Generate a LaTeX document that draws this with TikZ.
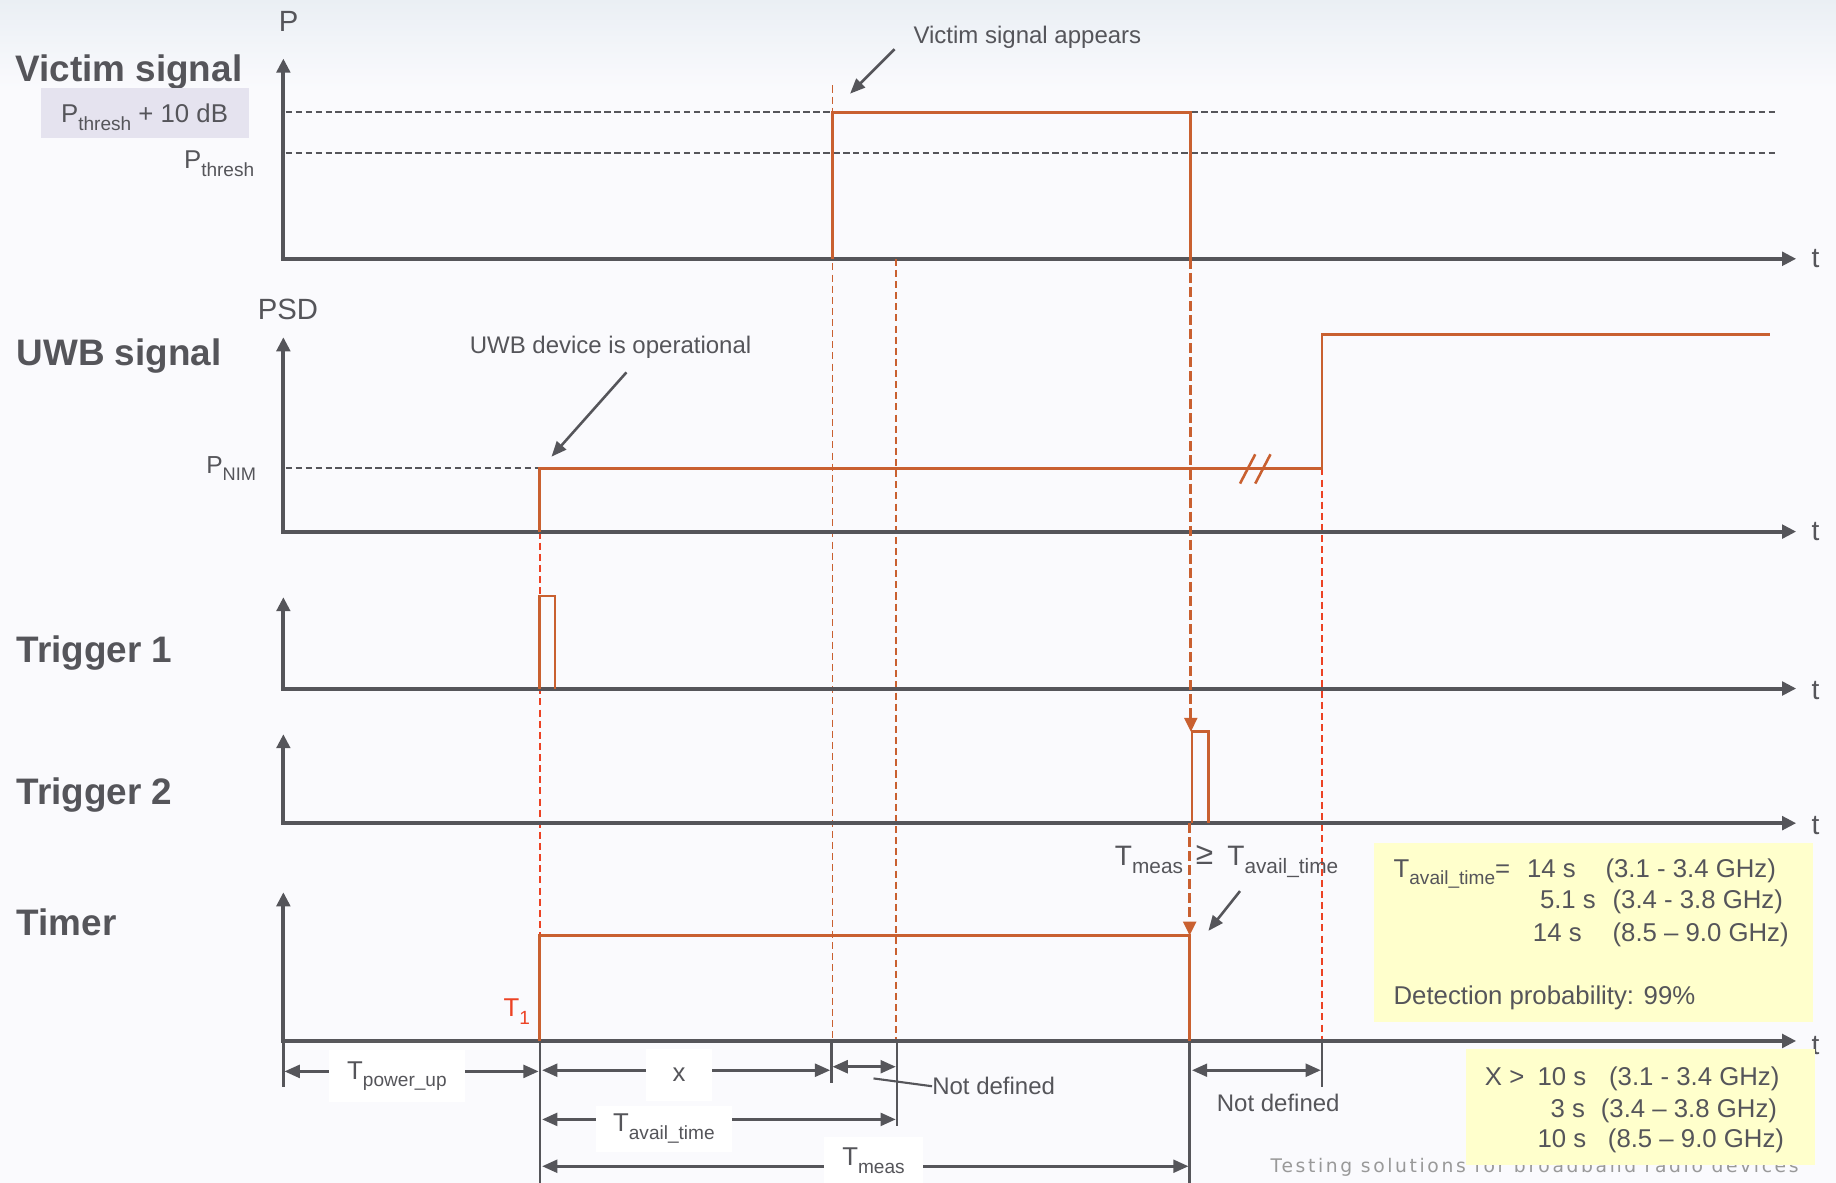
\documentclass[tikz,border=0pt]{standalone}
\usepackage{fontspec}
\setmainfont{Liberation Sans}
\newfontfamily\wmfont[LetterSpace=14]{DejaVu Sans}
\usetikzlibrary{arrows.meta}
\definecolor{dg}{RGB}{85,85,90}
\definecolor{sigc}{RGB}{201,96,48}
\definecolor{redc}{RGB}{236,66,36}
\definecolor{lav}{RGB}{229,227,239}
\definecolor{yel}{RGB}{255,255,204}
\definecolor{bgc}{RGB}{250,250,253}
\definecolor{topc}{RGB}{234,239,244}
\newcommand{\lowsub}[1]{\raisebox{-0.3em}{\scalebox{0.74}{#1}}}
\newcommand{\fs}[1]{\fontsize{#1}{#1}\selectfont}
\begin{document}
\begin{tikzpicture}[x=1pt,y=-1pt,
  axisline/.style={draw=dg,line width=3.4pt,line join=miter,
    {Triangle[length=12pt,width=11.5pt]}-{Triangle[length=12pt,width=11.5pt]}},
  sigline/.style={draw=sigc,line width=2.4pt,line join=miter},
  thrline/.style={draw=dg,line width=1.8pt,dash pattern=on 5.5pt off 3pt},
  odash/.style={draw=sigc,line width=1.6pt,dash pattern=on 6pt off 3.5pt},
  rdash/.style={draw=redc,line width=1.7pt,dash pattern=on 6pt off 3.5pt},
  oarrow/.style={draw=sigc,line width=2.4pt,dash pattern=on 8.5pt off 3.5pt,
    -{Triangle[length=12pt,width=11pt,sep=0pt]}},
  dimline/.style={draw=dg,line width=2.3pt,
    {Triangle[length=13pt,width=11pt]}-{Triangle[length=13pt,width=11pt]}},
  tickline/.style={draw=dg,line width=2pt},
  callout/.style={draw=dg,line width=2.2pt,-{Triangle[length=13pt,width=10.5pt]}},
  lbl/.style={font=\bfseries\fs{31.5},text=dg,inner sep=0pt,anchor=base west},
  txt/.style={font=\fs{20.5},text=dg,inner sep=0pt,anchor=base west},
  mtxt/.style={font=\fs{22},text=dg,inner sep=0pt,anchor=base west},
  axlbl/.style={font=\fs{25},text=dg,inner sep=0pt,anchor=base west},
  tlbl/.style={font=\fs{24},text=dg,inner sep=0pt,anchor=west},
  wbox/.style={fill=white,inner sep=0pt,font=\fs{22},text=dg}
]
% background
\fill[bgc] (0,0) rectangle (1568,1010);
\shade[top color=topc,bottom color=bgc] (0,0) rectangle (1568,75);
\useasboundingbox (0,0) rectangle (1568,1010);

% ---------- left labels ----------
\node[lbl] (lv) at (13,70) {Victim signal};
\node[lbl] (lu) at (14,312) {UWB signal};
\node[lbl] (lt1) at (14,566) {Trigger 1};
\node[lbl] (lt2) at (14,687) {Trigger 2};
\node[lbl] (ltm) at (14,799) {Timer};

% ---------- Victim panel ----------
\fill[lav] (35,75) rectangle (213,118);
\node[mtxt] (pth10) at (52,105) {P\lowsub{thresh} + 10 dB};
\node[mtxt] (pth) at (157,144) {P\lowsub{thresh}};
\node[axlbl] (pl) at (238,27) {P};
\draw[thrline] (244,96) -- (1517,96);
\draw[thrline] (244,131) -- (1517,131);
\coordinate (vY) at (242,50);
\coordinate (vO) at (242,221);
\coordinate (vX) at (1534,221);
\draw[axisline] (vY) -- (vO) -- (vX);
\node[tlbl] (vt) at (1547,221) {t};
\draw[odash] (711,73) -- (711,889);
\draw[odash] (765,221) -- (765,889);
\coordinate (vp1) at (711,221);
\coordinate (vp2) at (1017,221);
\draw[sigline] (vp1) -- (711,96) -- (1017,96) -- (vp2);
\node[txt] (vsa) at (780,37) {Victim signal appears};
\coordinate (vsaS) at (764,42);
\coordinate (vsaE) at (726,80);
\draw[callout] (vsaS) -- (vsaE);

% ---------- UWB panel ----------
\node[axlbl] (psd) at (220,273) {PSD};
\node[font=\fs{21},text=dg,inner sep=0pt,anchor=base west] (pnim) at (176,404) {P\lowsub{NIM}};
\draw[thrline] (244,400) -- (461,400);
\coordinate (uY) at (242,288);
\coordinate (uO) at (242,454);
\coordinate (uX) at (1534,454);
\draw[rdash] (461,454) -- (461,889);
\draw[rdash] (1129,400) -- (1129,889);
\draw[axisline] (uY) -- (uO) -- (uX);
\node[tlbl] (ut) at (1547,454) {t};
\draw[sigline] (461,454) -- (461,400) -- (1129,400) -- (1129,286) -- (1512,286);
\draw[sigc,line width=2.2pt] (1059,413) -- (1072,388);
\draw[sigc,line width=2.2pt] (1072,413) -- (1085,388);
\node[txt] (uwbop) at (401,302) {UWB device is operational};
\coordinate (uwbS) at (535,318);
\coordinate (uwbE) at (471,390);
\draw[callout] (uwbS) -- (uwbE);

% ---------- Trigger 1 ----------
\coordinate (aY) at (242,510);
\coordinate (aO) at (242,588);
\coordinate (aX) at (1534,588);
\draw[axisline] (aY) -- (aO) -- (aX);
\node[tlbl] (at) at (1547,590) {t};
\draw[sigline] (461,588) -- (461,509) -- (474,509) -- (474,588);

% ---------- Trigger 2 ----------
\coordinate (bY) at (242,627);
\coordinate (bO) at (242,703);
\coordinate (bX) at (1534,703);
\draw[axisline] (bY) -- (bO) -- (bX);
\node[tlbl] (bt) at (1547,705) {t};
\coordinate (t2top) at (1017,625);
\draw[sigline] (1018,703) -- (1018,625) -- (1032,625) -- (1032,703);
\draw[oarrow] (vp2) -- (t2top);

% ---------- Timer ----------
\coordinate (cY) at (242,762);
\coordinate (cO) at (242,889);
\coordinate (cX) at (1534,889);
\draw[axisline] (cY) -- (cO) -- (cX);
\node[tlbl] (ct) at (1547,893) {t};
\coordinate (tmtop) at (1016,799);
\draw[sigline] (461,889) -- (461,799) -- (1016,799) -- (1016,889);
\coordinate (t2base) at (1016,703);
\draw[oarrow] (t2base) -- (tmtop);
\node[font=\fs{22},text=redc,inner sep=0pt,anchor=base west] (t1) at (430,868) {T\lowsub{1}};
\node[font=\fs{24},text=dg,inner sep=0pt,anchor=base west] (tmg1) at (952,739) {T\lowsub{meas}};
\node[font=\fs{27},text=dg,inner sep=0pt,anchor=base west] (tmg2) at (1021,738) {≥};
\node[font=\fs{24},text=dg,inner sep=0pt,anchor=base west] (tmg3) at (1048,739) {T\lowsub{avail\_time}};
\coordinate (tmS) at (1059,761);
\coordinate (tmE) at (1032,795);
\draw[callout] (tmS) -- (tmE);

% ---------- ticks below timer axis ----------
\draw[tickline] (242,889) -- (242,928);
\draw[tickline] (461,889) -- (461,1012);
\draw[tickline] (710,889) -- (710,925);
\draw[tickline] (766,889) -- (766,962);
\draw[tickline] (1016,889) -- (1016,1012);
\draw[tickline] (1129,889) -- (1129,928);

% ---------- dimension arrows ----------
\coordinate (dpuL) at (243,915);
\coordinate (dpuR) at (460,915);
\draw[dimline] (dpuL) -- (dpuR);
\node[wbox,minimum width=116pt,minimum height=44pt] (tpu) at (339,919) {T\lowsub{power\_up}};

\coordinate (dxL) at (463,914);
\coordinate (dxR) at (709,914);
\draw[dimline] (dxL) -- (dxR);
\node[wbox,minimum width=56pt,minimum height=45pt] (xl) at (580,918) {x};

\coordinate (dnL) at (711,911);
\coordinate (dnR) at (765,911);
\draw[dimline] (dnL) -- (dnR);
\node[txt] (nd1) at (796,935) {Not defined};
\coordinate (ndS) at (746,921);
\draw[dg,line width=1.8pt] (ndS) -- (nd1.west);

\coordinate (daL) at (463,956);
\coordinate (daR) at (765,956);
\draw[dimline] (daL) -- (daR);
\node[wbox,minimum width=116pt,minimum height=39pt] (tav) at (567,964) {T\lowsub{avail\_time}};

\coordinate (dmL) at (463,996);
\coordinate (dmR) at (1015,996);
\draw[dimline] (dmL) -- (dmR);
\node[wbox,minimum width=84pt,minimum height=40pt,anchor=north] (tme) at (746,971) {T\lowsub{meas}};

\coordinate (drL) at (1018,914);
\coordinate (drR) at (1128,914);
\draw[dimline] (drL) -- (drR);
\node[txt] (nd2) at (1039,949) {Not defined};

% ---------- watermark ----------
\node[font=\wmfont\fs{16},text=black!40,inner sep=0pt,anchor=base west] (wm) at (1085,1001)
  {Testing solutions for broadband radio devices};

% ---------- yellow boxes ----------
\fill[yel] (1173,720) rectangle (1548,873);
\node[mtxt] (ya1) at (1190,749) {T\lowsub{avail\_time}=};
\node[mtxt] (ya2) at (1304,749) {14 s};
\node[mtxt] (ya3) at (1371,749) {(3.1 - 3.4 GHz)};
\node[mtxt] (yb2) at (1315,776) {5.1 s};
\node[mtxt] (yb3) at (1377,776) {(3.4 - 3.8 GHz)};
\node[mtxt] (yc2) at (1309,804) {14 s};
\node[mtxt] (yc3) at (1377,804) {(8.5 – 9.0 GHz)};
\node[mtxt] (ydp) at (1190,858) {Detection probability: 99\%};

\fill[yel] (1252,896) rectangle (1550,995);
\node[mtxt] (za1) at (1268,927) {X >};
\node[mtxt] (za2) at (1313,927) {10 s};
\node[mtxt] (za3) at (1374,927) {(3.1 - 3.4 GHz)};
\node[mtxt] (zb2) at (1324,954) {3 s};
\node[mtxt] (zb3) at (1367,954) {(3.4 – 3.8 GHz)};
\node[mtxt] (zc2) at (1313,980) {10 s};
\node[mtxt] (zc3) at (1373,980) {(8.5 – 9.0 GHz)};
\end{tikzpicture}
\end{document}
